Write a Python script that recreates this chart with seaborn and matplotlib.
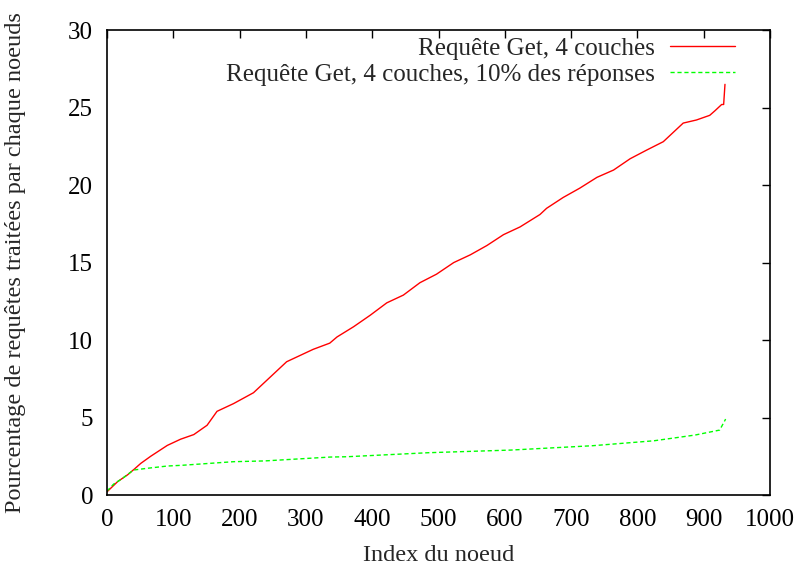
import numpy as np
import pandas as pd
import matplotlib
matplotlib.use('Agg')
import matplotlib.pyplot as plt
import seaborn as sns

# Courbe 1 : requête Get, 4 couches
red_x = [0, 16, 31, 41, 51, 66, 91, 111, 131, 141, 151, 166, 191, 221, 241, 271, 311, 336,
         347, 372, 397, 422, 447, 472, 497, 523, 548, 573, 598, 623, 653, 663, 688, 713,
         739, 764, 789, 814, 839, 854, 869, 889, 909, 917, 927, 930, 932]
red_y = [0.2, 0.86, 1.3, 1.66, 2.04, 2.5, 3.2, 3.6, 3.9, 4.2, 4.5, 5.4, 5.9, 6.6, 7.4, 8.6, 9.4, 9.8,
         10.2, 10.86, 11.6, 12.4, 12.9, 13.7, 14.25, 15.0, 15.5, 16.1, 16.8, 17.3, 18.1, 18.5, 19.2, 19.8,
         20.5, 20.97, 21.7, 22.26, 22.8, 23.4, 24.0, 24.2, 24.5, 24.8, 25.2, 25.2, 26.5]

# Courbe 2 : requête Get, 4 couches, 10% des réponses
green_x = [0, 10, 22, 32, 40, 60, 91, 114, 191, 238, 337, 362, 485, 609, 732, 825, 887, 924, 933]
green_y = [0.25, 0.7, 1.03, 1.35, 1.61, 1.72, 1.87, 1.92, 2.15, 2.2, 2.45, 2.47, 2.73, 2.9, 3.18, 3.5, 3.87, 4.19, 4.9]

lbl_red = 'Requête Get, 4 couches'
lbl_green = 'Requête Get, 4 couches, 10% des réponses'

sns.set_style('white')
plt.rcParams['font.family'] = ['Liberation Serif', 'DejaVu Serif']

df = pd.concat([
    pd.DataFrame({'x': red_x, 'y': red_y, 'serie': lbl_red}),
    pd.DataFrame({'x': green_x, 'y': green_y, 'serie': lbl_green}),
])

fig = plt.figure(figsize=(7.98, 5.68), dpi=100)
ax = fig.add_axes([0.134, 0.1285, 0.831, 0.8185])

sns.lineplot(data=df, x='x', y='y', hue='serie', style='serie',
             palette={lbl_red: '#ff0000', lbl_green: '#00ff00'},
             dashes={lbl_red: '', lbl_green: (3, 2)},
             lw=1.0, ax=ax, sort=False, estimator=None)

ax.set_xlim(0, 1000)
ax.set_ylim(0, 30)
ax.set_xticks(np.arange(0, 1001, 100))
ax.set_yticks(np.arange(0, 31, 5))
ax.tick_params(direction='in', top=True, right=True, length=6, width=1,
               labelsize=18, pad=10, colors='black')
for s in ax.spines.values():
    s.set_color('black')
    s.set_linewidth(1.2)

ax.set_xlabel('Index du noeud', fontsize=17.5, labelpad=10)
ax.set_ylabel('Pourcentage de requêtes traitées par chaque noeuds', fontsize=17.5, labelpad=30)

leg = ax.legend(loc='upper right', frameon=False, markerfirst=False, fontsize=18,
                handlelength=2.6, handletextpad=0.6, labelspacing=0.15,
                borderaxespad=0.2, bbox_to_anchor=(0.97, 1.017))

fig.savefig('out.png', dpi=100)
